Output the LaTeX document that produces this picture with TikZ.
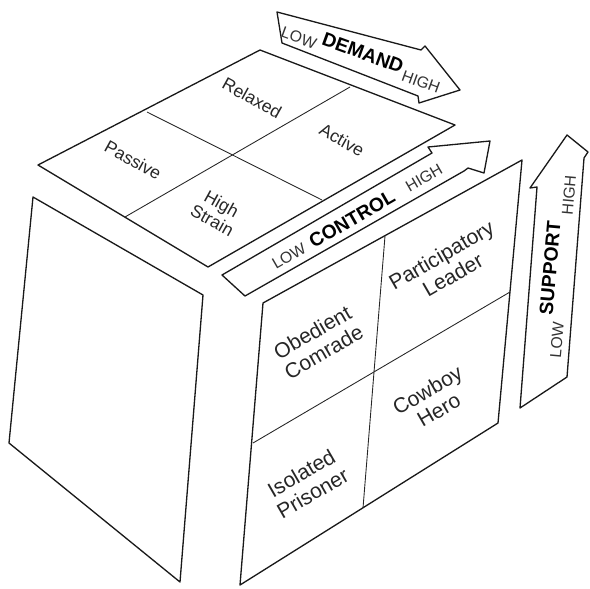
\documentclass[tikz,border=0pt]{standalone}
\usepackage{fontspec}
\setmainfont{Liberation Sans}
\usepackage{tikz}

\begin{document}
\begin{tikzpicture}[x=0.02cm, y=-0.02cm, line join=round,
    edge/.style={line width=0.75pt, black!90},
    grid/.style={line width=0.5pt, black!85},
    toplabel/.style={rotate=-29, align=center, text=black!85, inner sep=0pt,
      font=\fontsize{10}{11}\selectfont},
    frontlabel/.style={rotate=30, align=center, text=black!85, inner sep=0pt,
      font=\fontsize{12}{13}\selectfont},
    lohi/.style={inner sep=0pt, text=black!80, font=\fontsize{9}{10}\selectfont},
    axisname/.style={inner sep=0pt, font=\bfseries\fontsize{11}{12}\selectfont}]

  \useasboundingbox (0, 0) rectangle (590, 588);

  % top face: demand x control
  \begin{scope}
    \draw[edge] (38, 165) -- (260, 50) -- (455, 125) -- (208, 267) -- cycle;
    \draw[grid] (147, 112) -- (322, 200);
    \draw[grid] (350, 87) -- (125, 217);
    \node[toplabel] (relaxed) at (252, 98) {Relaxed};
    \node[toplabel] (passive) at (133, 160) {Passive};
    \node[toplabel] (active) at (342, 140) {Active};
    \node[toplabel] (strain) at (217, 212) {High\\Strain};
  \end{scope}

  % left face
  \begin{scope}
    \draw[edge] (33, 197) -- (203, 295) -- (180, 582) -- (9, 443) -- cycle;
  \end{scope}

  % front face: control x support
  \begin{scope}
    \draw[edge] (263, 303) -- (522, 160) -- (498, 423) -- (240, 585) -- cycle;
    \draw[grid] (385, 236) -- (363, 508);
    \draw[grid] (253, 443) -- (510, 292);
    \node[frontlabel] (comrade) at (318, 342) {Obedient\\Comrade};
    \node[frontlabel] (leader) at (447, 265) {Participatory\\Leader};
    \node[frontlabel] (prisoner) at (307, 483) {Isolated\\Prisoner};
    \node[frontlabel] (cowboy) at (433, 400) {Cowboy\\Hero};
  \end{scope}

  % demand arrow
  \begin{scope}
    \draw[edge] (277, 12) -- (421, 50) -- (425, 46) -- (460, 90) -- (419, 103)
      -- (418, 96) -- (282, 43) -- cycle;
    \node[lohi, rotate=-20] (dlow) at (299, 38) {LOW};
    \node[axisname, rotate=-20] (demand) at (363, 53) {DEMAND};
    \node[lohi, rotate=-20] (dhigh) at (421, 82) {HIGH};
  \end{scope}

  % control arrow
  \begin{scope}
    \draw[edge] (222, 275) -- (432, 153) -- (428, 147) -- (490, 141) -- (484, 173)
      -- (468, 168) -- (464, 171) -- (245, 296) -- cycle;
    \node[lohi, rotate=30] (clow) at (289, 256) {LOW};
    \node[axisname, rotate=30] (control) at (352, 219) {CONTROL};
    \node[lohi, rotate=30] (chigh) at (424, 178) {HIGH};
  \end{scope}

  % support arrow
  \begin{scope}
    \draw[edge] (520, 408) -- (537, 187) -- (530, 188) -- (567, 135) -- (588, 152)
      -- (584, 158) -- (567, 377) -- cycle;
    \node[lohi, rotate=85] (slow) at (557, 340) {LOW};
    \node[axisname, rotate=85] (support) at (550, 268) {SUPPORT};
    \node[lohi, rotate=85] (shigh) at (569, 195) {HIGH};
  \end{scope}

\end{tikzpicture}
\end{document}
